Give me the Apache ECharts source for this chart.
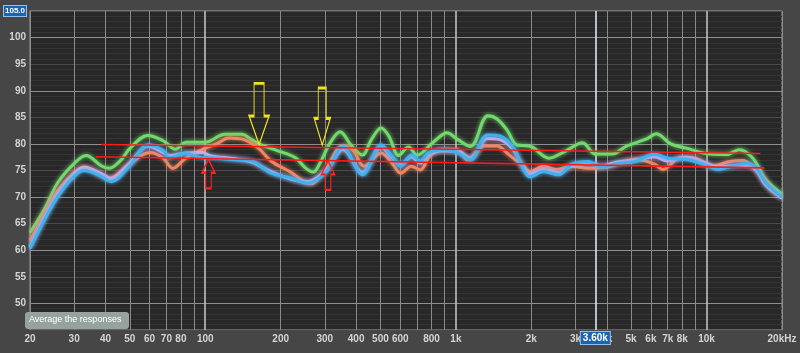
<!DOCTYPE html>
<html>
<head>
<meta charset="utf-8">
<script src="https://cdn.jsdelivr.net/npm/echarts@6/dist/echarts.min.js"></script>
<style>
html,body{margin:0;padding:0;background:#464646;}
#chart{width:800px;height:353px;}
</style>
</head>
<body>
<div id="chart"></div>
<script>
// frequency response, 4 measurements

var greenFreq = [20,23,25.8,30,33.5,38.4,41.3,46,50,59,68,76,84,100,120,140,153,167,195,229,251,270,287,315,345,384,424,460,503,540,591,648,700,798,874,920,1018,1144,1340,1460,1600,1750,1970,2350,2750,3200,3600,4200,4800,5800,6300,7200,8300,10000,12000,13500,15300,17200,20000];
var greenDb = [63.3,68.0,72.7,76.3,77.8,75.9,75.4,76.9,79.1,81.6,80.6,79.0,80.3,80.3,81.8,81.8,80.8,79.8,78.7,77.4,75.5,74.7,76.4,80.2,82.3,79.6,77.9,80.8,83.0,81.5,77.8,79.4,77.9,80.0,81.6,82.1,80.8,79.5,85.3,84.7,82.6,79.8,79.6,77.3,78.7,80.2,78.1,78.1,79.6,81.0,81.9,80.0,79.2,78.2,78.0,78.9,77.3,73.3,70.6];

var orangeFreq = [20,23,25.8,30,32.9,41.3,50,60,67.8,74.2,83.5,100,111,124,143,163,183,219,263,301,354,387,431,503,556,603,664,721,792,890,1018,1112,1296,1458,1635,1862,1968,2240,2500,2900,3370,3950,4500,5200,6200,6700,7900,9000,10500,12400,13900,15300,16700,18300,20000];
var orangeDb = [61.8,67.1,71.2,74.6,75.6,73.5,76.3,78.4,77.4,75.4,77.3,79.2,80.0,81.1,80.8,79.2,76.8,74.7,72.5,75.1,79.6,78.9,75.8,78.3,76.4,74.5,75.8,75.1,77.9,78.9,78.9,77.0,79.6,79.6,77.9,75.8,74.8,75.8,75.2,75.8,75.4,75.6,76.3,77.1,76.2,75.2,77.5,77.3,75.8,76.7,76.9,75.8,73.8,71.3,70.0];

var blueFreq = [20,23,25.8,30,32.9,37.8,42.2,50,59.2,67.8,72.2,83.5,97.3,104.6,131,153,183,219,256,306,354,424,503,556,603,664,721,777,890,1018,1144,1334,1500,1700,1862,1968,2240,2570,2900,3370,3850,4400,5200,6200,7000,8300,9700,11200,12600,14300,15700,17200,20000];
var blueDb = [60.3,66.0,70.1,73.9,75.0,74.1,72.9,75.9,79.8,78.8,77.4,78.2,77.4,77.4,77.0,76.8,74.5,73.6,72.6,74.9,79.4,74.2,79.8,77.7,75.8,77.9,76.8,78.3,78.9,78.3,77.0,81.7,81.5,79.2,75.2,73.8,74.8,74.2,76.2,76.7,75.6,76.3,76.7,78.1,77.3,77.1,76.2,75.2,75.8,76.3,75.6,72.7,70.0];
// pink trace uses the blue frequencies
var pinkDb = [60.6,66.4,70.6,74.4,75.6,74.6,73.5,76.4,79.6,78.4,77.8,78.3,78.4,77.8,77.2,76.6,74.8,73.4,72.9,75.2,79.0,74.6,79.4,77.4,76.0,77.6,76.4,78.0,78.7,78.6,77.3,81.0,80.8,78.8,75.5,74.3,75.2,74.6,75.9,76.2,75.9,76.6,77.0,77.6,76.8,77.5,76.6,75.6,75.9,75.9,75.2,72.3,69.8];

// hand drawn red lines: [freq, dB] at both ends
var upperLine = [[38.4, 79.9], [16400, 78.2]];
var lowerLine = [[36.7, 77.6], [17000, 75.5]];
// arrow tips
var yellowArrows = [[164, 79.9], [293, 79.8]];
var redArrows = [[103, 77.1], [309, 76.8]];

var gridFreq = [20,30,40,50,60,70,80,90,100,200,300,400,500,600,700,800,900,1000,2000,3000,4000,5000,6000,7000,8000,9000,10000,20000];
var gridLabel = ['20','30','40','50','60','70','80','','100','200','300','400','500','600','','800','','1k','2k','3k','4k','5k','6k','7k','8k','','10k','20kHz'];
var cursorFreq = 3600;

function zip(f, v) {
    var out = [];
    for (var i = 0; i < f.length; i++) out.push([f[i], v[i]]);
    return out;
}

var gridLines = gridFreq.map(function (f, i) {
    var bright = (f === 100 || f === 1000 || f === 10000);
    return {
        xAxis: f,
        lineStyle: {color: bright ? '#c8c8c8' : '#8a8a8a', width: bright ? 1.5 : 1, type: 'solid'},
        label: {show: gridLabel[i] !== '', formatter: gridLabel[i]}
    };
});
gridLines.push({
    xAxis: cursorFreq,
    lineStyle: {color: '#e8f0ff', width: 1.5, type: 'solid'},
    label: {
        show: true, formatter: '3.60k', color: '#ffffff',
        backgroundColor: '#1d63b0', borderColor: '#8fc0ee', borderWidth: 1,
        padding: [1, 2], distance: 2
    }
});

function curve(name, data, color) {
    return {
        name: name, type: 'line', data: data, smooth: 0.35,
        symbol: 'none', z: 3, silent: true,
        lineStyle: {color: color, width: 3, shadowColor: color, shadowBlur: 4}
    };
}

var downArrow = 'path://M5,0 L15,0 L15,32 L20,32 L10,60 L0,32 L5,32 Z';
var upArrow = 'path://M7,0 L14,13 L10,13 L10,28 L4,28 L4,13 L0,13 Z';

var chart = echarts.init(document.getElementById('chart'));
var option = {
    backgroundColor: '#464646',
    animation: false,
    textStyle: {fontFamily: 'Liberation Sans'},
    grid: {
        left: 25, right: 18, top: 11, bottom: 23,
        show: true, backgroundColor: '#282828',
        borderColor: '#a0a0a0', borderWidth: 1
    },
    xAxis: {
        type: 'log', logBase: 10, min: 20, max: 20000,
        axisLine: {show: false}, axisTick: {show: false},
        axisLabel: {show: false}, splitLine: {show: false}
    },
    yAxis: {
        type: 'value', min: 45, max: 105, interval: 5,
        axisLine: {show: false}, axisTick: {show: false},
        axisLabel: {
            margin: 4, fontSize: 10, fontWeight: 'bold', color: '#d4d4d4',
            formatter: function (v) {
                if (v === 45) return '';
                if (v === 105) return '{sel|105.0}';
                return v;
            },
            rich: {
                sel: {color: '#ffffff', fontSize: 8, backgroundColor: '#1d63b0',
                      borderColor: '#8fc0ee', borderWidth: 1, padding: [1, 1]}
            }
        },
        splitLine: {show: true, lineStyle: {color: ['#4a4a4a', '#8e8e8e'], width: 1}},
        minorTick: {show: false, splitNumber: 5},
        minorSplitLine: {show: true, lineStyle: {color: '#343434', width: 1}}
    },
    series: [
        {
            name: 'grid', type: 'line', data: [], z: 1, silent: true,
            markLine: {
                silent: true, symbol: ['none', 'none'], z: 1, animation: false,
                label: {position: 'start', distance: 4, color: '#d4d4d4', fontSize: 10, fontWeight: 'bold'},
                emphasis: {disabled: true},
                data: gridLines
            }
        },
        curve('green', zip(greenFreq, greenDb), '#72da6c'),
        curve('orange', zip(orangeFreq, orangeDb), '#f08760'),
        curve('pink', zip(blueFreq, pinkDb), '#d9a8e6'),
        curve('blue', zip(blueFreq, blueDb), '#3fb2ee'),
        {
            name: 'upper', type: 'line', data: upperLine, symbol: 'none', z: 5, silent: true,
            lineStyle: {color: '#ff1a1a', width: 1.6},
            markPoint: {
                silent: true, label: {show: false},
                data: yellowArrows.map(function (c, i) {
                    return {
                        coord: c, symbol: downArrow,
                        symbolSize: i === 0 ? [20, 61] : [16, 57],
                        symbolOffset: [0, '-50%'],
                        itemStyle: {color: 'rgba(0,0,0,0)', borderColor: '#f2e21c', borderWidth: 1.6}
                    };
                })
            }
        },
        {
            name: 'lower', type: 'line', data: lowerLine, symbol: 'none', z: 5, silent: true,
            lineStyle: {color: '#ff1a1a', width: 1.6},
            markPoint: {
                silent: true, label: {show: false},
                data: redArrows.map(function (c) {
                    return {
                        coord: c, symbol: upArrow, symbolSize: [13, 29],
                        symbolOffset: [0, '50%'],
                        itemStyle: {color: 'rgba(0,0,0,0)', borderColor: '#ff2020', borderWidth: 1.6}
                    };
                })
            }
        }
    ],
    graphic: [
        {
            type: 'rect', left: 25, top: 312, z: 100,
            shape: {width: 104, height: 17, r: 3},
            style: {fill: '#96a39c'}
        },
        {
            type: 'text', left: 29, top: 315, z: 101,
            style: {text: 'Average the responses', fill: '#ffffff', fontSize: 9,
                    fontFamily: 'Liberation Sans'}
        }
    ]
};
chart.setOption(option);
</script>
</body>
</html>
